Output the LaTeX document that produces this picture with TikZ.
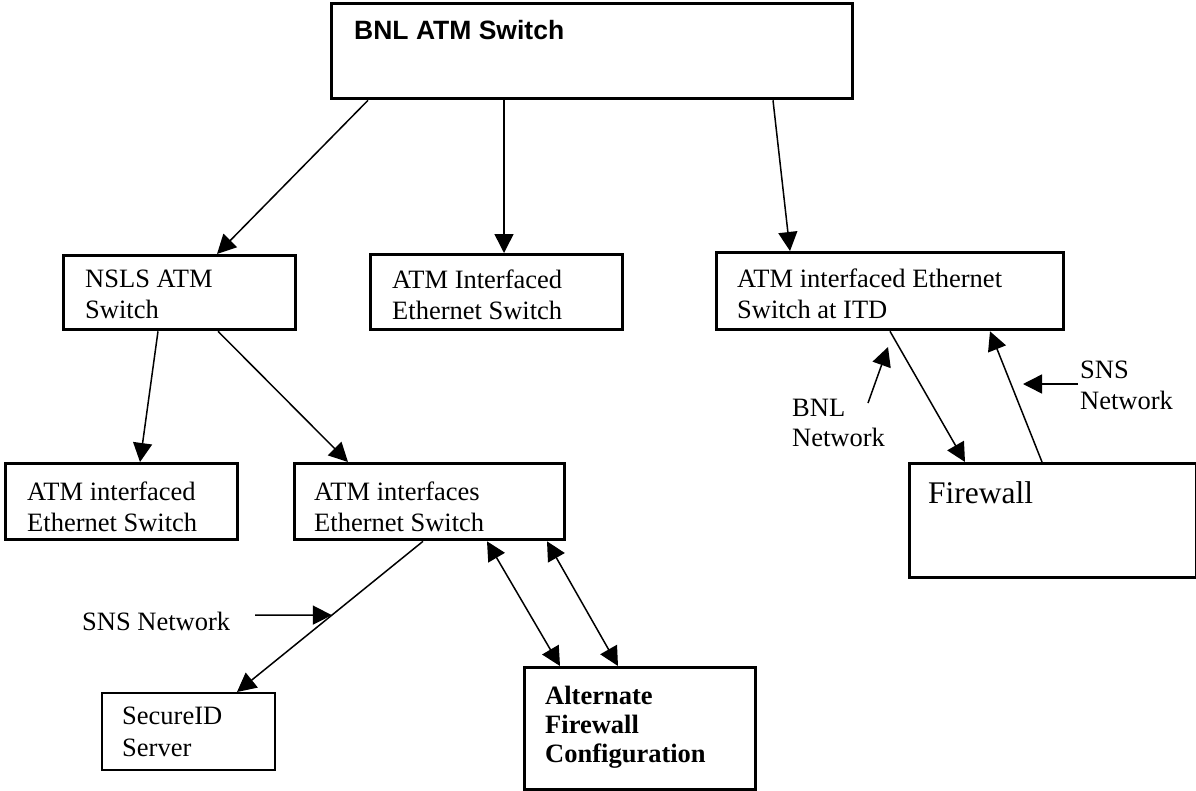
\documentclass[tikz,border=0pt]{standalone}
\usepackage{fontspec}
\setmainfont{Liberation Serif}
\newfontfamily\arialfont{Liberation Sans}
\usetikzlibrary{arrows.meta,positioning}
\newcommand\bodyfont{\fontsize{26.5}{31}\selectfont}
\tikzset{
  box/.style={draw, line width=3.3pt, anchor=north west, inner sep=0pt},
  thinbox/.style={box, line width=2pt},
  lbl/.style={anchor=north west, align=left, inner sep=0pt, font=\bodyfont},
  link/.style={line width=1.5pt, -{Triangle[length=19pt,width=19pt]}},
  biLink/.style={line width=1.5pt, {Triangle[length=19pt,width=19pt]}-{Triangle[length=19pt,width=19pt]}},
}
\begin{document}
\begin{tikzpicture}[x=1pt,y=-1pt]
\useasboundingbox (0,0) rectangle (1196,790);

\node[box, minimum width=521pt, minimum height=95pt] (bnl) at (330,2) {};
\node[box, minimum width=232pt, minimum height=74pt] (nsls) at (62,254) {};
\node[box, minimum width=252pt, minimum height=75pt] (ies) at (369,253) {};
\node[box, minimum width=347pt, minimum height=77pt] (itd) at (715,251) {};
\node[box, minimum width=232pt, minimum height=76pt] (iesLeft) at (4,462) {};
\node[box, minimum width=270pt, minimum height=76pt] (ifs) at (293,462) {};
\node[box, minimum width=287pt, minimum height=114pt] (fw) at (908,462) {};
\node[thinbox, minimum width=173pt, minimum height=77pt] (sid) at (101,692) {};
\node[box, minimum width=231pt, minimum height=122pt] (alt) at (523,666) {};

\node[lbl, font=\arialfont\bfseries\bodyfont] (bnlText) at (354,20) {BNL ATM Switch};
\node[lbl] (nslsText) at (85,270) {NSLS ATM\\Switch};
\node[lbl] (iesText) at (392,270) {ATM Interfaced\\Ethernet Switch};
\node[lbl] (itdText) at (737,269) {ATM interfaced Ethernet\\Switch at ITD};
\node[lbl] (iesLeftText) at (27,482) {ATM interfaced\\Ethernet Switch};
\node[lbl] (ifsText) at (314,482) {ATM interfaces\\Ethernet Switch};
\node[lbl, font=\fontsize{31.5}{36}\selectfont] (fwText) at (928,481) {Firewall};
\node[lbl, font=\fontsize{26.5}{32}\selectfont] (sidText) at (122,707) {SecureID\\Server};
\node[lbl, font=\fontsize{26.5}{29}\selectfont\bfseries] (altText) at (545,686) {Alternate\\Firewall\\Configuration};
\node[lbl] (snsLeft) at (82,612) {SNS Network};
\node[lbl, font=\fontsize{26.5}{30}\selectfont] (bnlNet) at (792,399) {BNL\\Network};
\node[lbl] (snsRight) at (1080,361) {SNS\\Network};

\draw[link] ([xshift=38pt]bnl.south west) -- ([xshift=155pt]nsls.north west);
\draw[link] ([xshift=174pt]bnl.south west) -- ([xshift=135pt]ies.north west);
\draw[link] ([xshift=443pt]bnl.south west) -- ([xshift=75pt]itd.north west);
\draw[link] ([xshift=96pt]nsls.south west) -- ([xshift=136pt]iesLeft.north west);
\draw[link] ([xshift=156pt]nsls.south west) -- ([xshift=55pt]ifs.north west);
\draw[link] ([xshift=130pt]ifs.south west) -- coordinate[pos=0.49] (snsHit) ([xshift=136pt]sid.north west);
\draw[biLink] ([xshift=194pt]ifs.south west) -- ([xshift=37pt]alt.north west);
\draw[biLink] ([xshift=254pt]ifs.south west) -- ([xshift=95pt]alt.north west);
\draw[link] ([xshift=175pt]itd.south west) -- ([xshift=57pt]fw.north west);
\draw[link] ([xshift=134pt]fw.north west) -- ([xshift=275pt]itd.south west);

\coordinate (snsTail) at (255,615);
\coordinate (bnlNetTail) at (868,403);
\coordinate (bnlNetTip) at (888,347);
\coordinate (snsRightTail) at (1078,384);
\coordinate (snsRightTip) at (1023,384);
\draw[link] (snsTail) -- (snsHit);
\draw[link] (bnlNetTail) -- (bnlNetTip);
\draw[link] (snsRightTail) -- (snsRightTip);
\end{tikzpicture}
\end{document}
